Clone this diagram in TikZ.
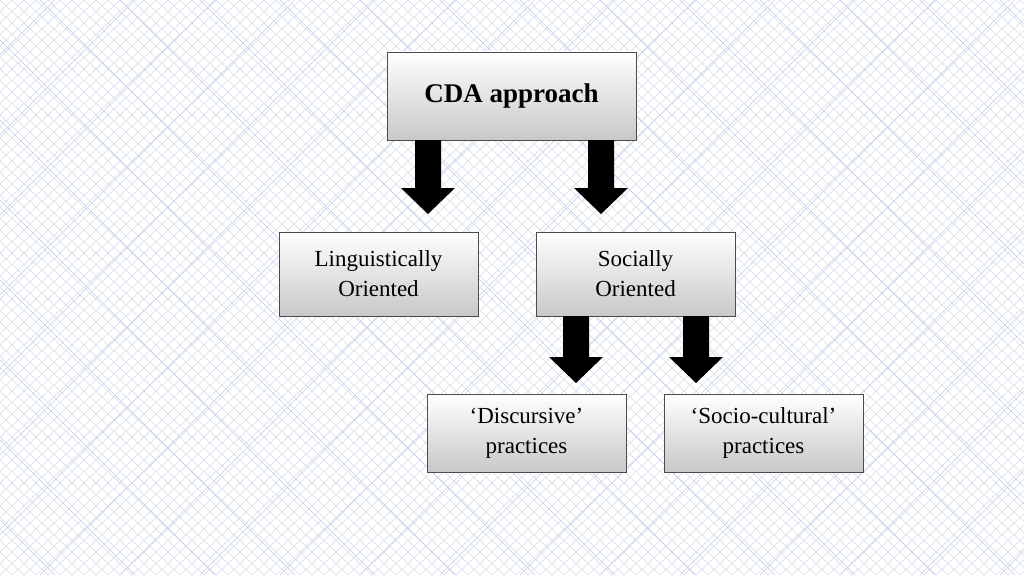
\documentclass[tikz,border=0pt]{standalone}
\usepackage{fontspec}
\setmainfont{Liberation Serif}
\usetikzlibrary{positioning}
\definecolor{hatch}{RGB}{196,208,222}
\definecolor{boxbot}{RGB}{200,200,200}
% block arrow: (top point) (tip point)
\newcommand{\BlockArrow}[2]{%
  \fill[black] ($#1+(-13,0)$) -- ($#1+(13,0)$) -- ($#2+(13,-26)$) -- ($#2+(27,-26)$)
    -- #2 -- ($#2+(-27,-26)$) -- ($#2+(-13,-26)$) -- cycle;}
\usetikzlibrary{calc}
\begin{document}
\begin{tikzpicture}[x=1pt,y=-1pt]
  \tikzset{BoxStyle/.style = {
    shape         = rectangle,
    draw          = black!70,
    top color     = white,
    bottom color  = boxbot,
    line width    = 0.8pt,
    text          = black,
    align         = center,
    minimum width = 199pt,
    inner sep     = 2pt,
    font          = \fontsize{23}{30}\selectfont
    }
  }
  \useasboundingbox (0,0) rectangle (1024,575);
  \begin{scope}
    \clip (0,0) rectangle (1024,575);
    \fill[white] (0,0) rectangle (1024,575);
    \foreach \i in {-600,-588,...,1040}
      {\draw[hatch, line width=0.35pt] (\i,0) -- ++(600,575);
       \draw[hatch, line width=0.35pt] (\i+600,0) -- ++(-600,575);}
    \foreach \i in {-600,-520,...,1040}
      {\draw[hatch!80!blue!60, line width=0.5pt] (\i,0) -- ++(575,575);
       \draw[hatch!80!blue!60, line width=0.5pt] (\i+575,0) -- ++(-575,575);}
  \end{scope}

  \node[BoxStyle, minimum width=249pt, minimum height=88pt,
        font=\fontsize{27}{32}\selectfont\bfseries] (cda) at (511.5,96) {CDA approach};
  \node[BoxStyle, minimum height=84pt] (ling) at (378.5,274) {Linguistically\\Oriented};
  \node[BoxStyle, minimum height=84pt] (soc) at (635.5,274) {Socially\\Oriented};
  \node[BoxStyle, minimum height=78pt] (disc) at (526.5,433) {‘Discursive’\\practices};
  \node[BoxStyle, minimum height=78pt] (scult) at (763.5,433) {‘Socio-cultural’\\practices};

  \BlockArrow{(428,140)}{(428,214)}
  \BlockArrow{(601,140)}{(601,214)}
  \BlockArrow{(576,316)}{(576,383)}
  \BlockArrow{(696,316)}{(696,383)}
\end{tikzpicture}
\end{document}
